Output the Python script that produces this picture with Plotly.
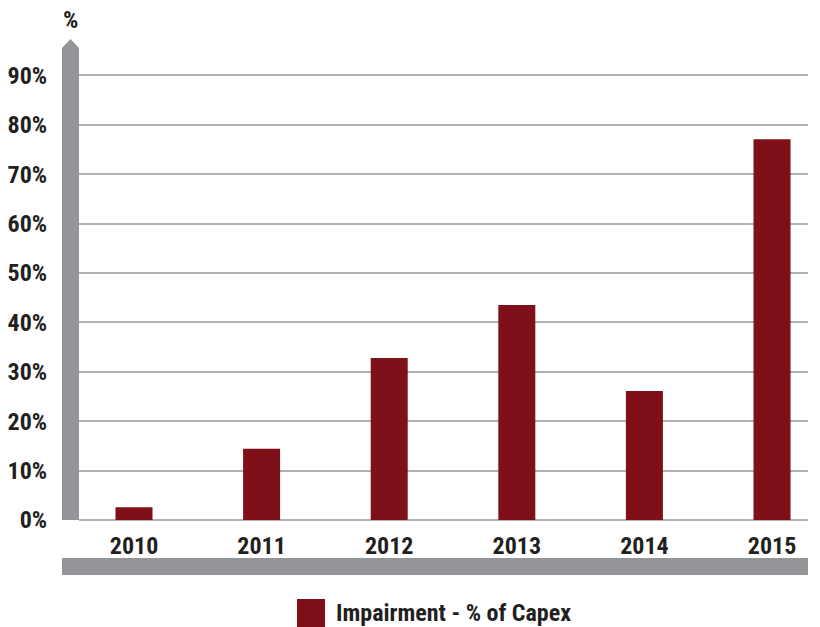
import plotly.graph_objects as go

years = ["2010", "2011", "2012", "2013", "2014", "2015"]
impairment_pct = [2.6, 14.4, 32.8, 43.5, 26.1, 77.1]
y_ticks = [0, 10, 20, 30, 40, 50, 60, 70, 80, 90]
series_name = "Impairment - % of Capex"

W, H = 820, 627
L, R, T, B = 79, 12, 48, 107
PW, PH = W - L - R, H - T - B

def px(x):
    return (x - L) / PW

def py(y):
    return (H - B - y) / PH

BAR = "#7f1019"
GREY = "#939598"
TXT = "#231f20"
FONT = "Liberation Sans Narrow, Roboto Condensed, Arial Narrow, sans-serif"
FS = 24

fig = go.Figure(go.Bar(
    x=list(range(len(years))), y=impairment_pct, width=0.29,
    marker=dict(color=BAR, line=dict(width=0)), name=series_name, showlegend=False,
))

shapes = [
    dict(type="path", xref="paper", yref="paper",
         path=f"M {px(62)},{py(520)} L {px(62)},{py(48)} L {px(70.5)},{py(39)} L {px(79)},{py(48)} L {px(79)},{py(520)} Z",
         fillcolor=GREY, line=dict(width=0), layer="above"),
    dict(type="rect", xref="paper", yref="paper", x0=px(62), x1=px(808), y0=py(575), y1=py(558),
         fillcolor=GREY, line=dict(width=0)),
    dict(type="rect", xref="paper", yref="paper", x0=px(297), x1=px(325), y0=py(627), y1=py(599),
         fillcolor=BAR, line=dict(width=0)),
]

annotations = [
    dict(text="<b>%</b>", xref="paper", yref="paper", x=px(70), y=py(20), showarrow=False,
         font=dict(size=FS, color=TXT, family=FONT), xanchor="center", yanchor="middle"),
    dict(text=f"<b>{series_name}</b>", xref="paper", yref="paper", x=px(334), y=py(613), showarrow=False,
         font=dict(size=FS, color=TXT, family=FONT), xanchor="left", yanchor="middle"),
]

fig.update_layout(
    width=W, height=H, margin=dict(l=L, r=R, t=T, b=B, autoexpand=False),
    paper_bgcolor="white", plot_bgcolor="white",
    font=dict(family=FONT, color=TXT, size=FS),
    shapes=shapes, annotations=annotations, showlegend=False,
    xaxis=dict(range=[-0.431, 5.282], tickvals=list(range(len(years))),
               ticktext=[f"<b>{y}</b>" for y in years], showgrid=False, zeroline=False,
               showline=False, ticks="outside", ticklen=4, tickcolor="rgba(0,0,0,0)",
               tickfont=dict(size=FS, color=TXT, family=FONT), fixedrange=True, automargin=False),
    yaxis=dict(range=[0, 95.55], tickvals=y_ticks, ticktext=[f"<b>{v}%</b>" for v in y_ticks],
               showgrid=True, gridcolor="#b1b1b1", gridwidth=2, zeroline=True,
               zerolinecolor="#b1b1b1", zerolinewidth=2, showline=False,
               ticks="outside", ticklen=26, tickcolor="rgba(0,0,0,0)",
               tickfont=dict(size=FS, color=TXT, family=FONT), fixedrange=True, automargin=False),
)

fig.write_html("out.html", config={"displayModeBar": False},
               post_script="document.body.style.margin='0px';")
